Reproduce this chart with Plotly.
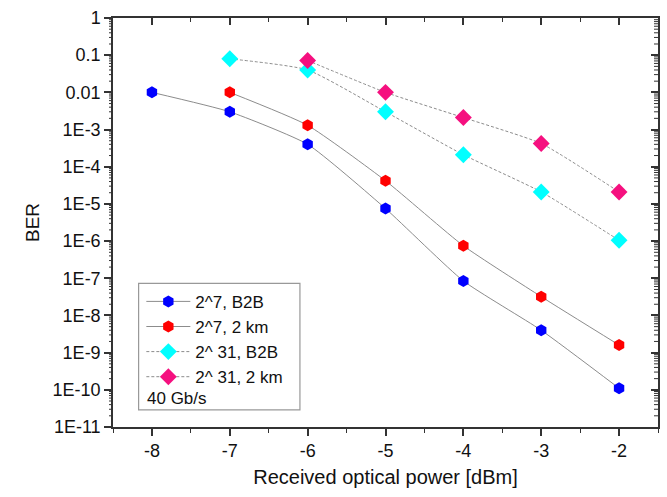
import math
import plotly.graph_objects as go

power = [-8, -7, -6, -5, -4, -3, -2]
ber_b2b_7 = [1e-2, 3e-3, 4e-4, 7.5e-6, 8.5e-8, 4e-9, 1.1e-10]
power_2km_7 = [-7, -6, -5, -4, -3, -2]
ber_2km_7 = [1e-2, 1.3e-3, 4.2e-5, 7.5e-7, 3.2e-8, 1.6e-9]
power_31_b2b = [-7, -6, -5, -4, -3, -2]
ber_b2b_31 = [8e-2, 4e-2, 3e-3, 2.1e-4, 2.1e-5, 1.05e-6]
power_31_2km = [-6, -5, -4, -3, -2]
ber_2km_31 = [7.2e-2, 1e-2, 2.1e-3, 4.2e-4, 2.1e-5]

names = ["2^7, B2B", "2^7, 2 km", "2^ 31, B2B", "2^ 31, 2 km"]
colors = ["#0000ff", "#ff0000", "#00ffff", "#f5107f"]
ytickvals = [1, 0.1, 0.01, 1e-3, 1e-4, 1e-5, 1e-6, 1e-7, 1e-8, 1e-9, 1e-10, 1e-11]
yticktext = ["1", "0.1", "0.01", "1E-3", "1E-4", "1E-5", "1E-6", "1E-7", "1E-8", "1E-9", "1E-10", "1E-11"]
yminorvals = [m * 10.0 ** e for e in range(-11, 0) for m in range(2, 10)]
xtickvals = [-8, -7, -6, -5, -4, -3, -2]
xticktext = ["-8", "-7", "-6", "-5", "-4", "-3", "-2"]

YLOG_MIN, YLOG_MAX = -11, 0
FONT = "Arial, Liberation Sans, sans-serif"
AX = "#333333"
TXT = "#111111"

fig = go.Figure()
series = [
    (power, ber_b2b_7, "hexagon", 12, "solid"),
    (power_2km_7, ber_2km_7, "hexagon", 12, "solid"),
    (power_31_b2b, ber_b2b_31, "diamond", 13, "3px,2px"),
    (power_31_2km, ber_2km_31, "diamond", 13, "3px,2px"),
]
for (xs, ys, sym, sz, dash), name, col in zip(series, names, colors):
    fig.add_trace(go.Scatter(
        x=xs, y=ys, name=name, mode="lines+markers",
        line=dict(color="#8c8c8c", width=1, dash=dash, shape="spline", smoothing=0.5),
        marker=dict(symbol=sym, size=sz, color=col, line=dict(width=0)),
    ))

fig.add_trace(go.Scatter(x=[None], y=[None], xaxis="x2", yaxis="y2", showlegend=False, hoverinfo="skip"))

# minor log ticks on left (outside) and right (inside); paper-referenced so they are not clipped
shapes = []
for v in yminorvals:
    py = (math.log10(v) - YLOG_MIN) / (YLOG_MAX - YLOG_MIN)
    shapes.append(dict(type="line", xref="paper", yref="paper", xsizemode="pixel", xanchor=0,
                       x0=-4, x1=0, y0=py, y1=py, line=dict(color=AX, width=1), layer="above"))
    shapes.append(dict(type="line", xref="paper", yref="paper", xsizemode="pixel", xanchor=1,
                       x0=-4, x1=0, y0=py, y1=py, line=dict(color=AX, width=1), layer="above"))
shapes.append(dict(type="rect", xref="paper", yref="paper", x0=0.047, x1=0.343, y0=0.042, y1=0.351,
                   line=dict(color="#999999", width=1.2), fillcolor="rgba(0,0,0,0)", layer="above"))

fig.update_layout(
    width=667, height=497,
    margin=dict(l=113, r=9, t=18, b=70),
    paper_bgcolor="white", plot_bgcolor="white",
    font=dict(family=FONT, size=18, color=TXT),
    showlegend=True,
    legend=dict(x=0.052, y=0.35, xanchor="left", yanchor="top",
                bgcolor="rgba(0,0,0,0)", borderwidth=0,
                font=dict(size=17, family=FONT, color=TXT),
                tracegroupgap=0, itemwidth=44),
    xaxis=dict(range=[-8.5, -1.5], tickvals=xtickvals, ticktext=xticktext, ticks="outside", ticklen=7, tickwidth=1.5,
               tickcolor=AX, showline=True, linecolor=AX, linewidth=1.5, showgrid=False, zeroline=False,
               minor=dict(ticks="outside", ticklen=4, tickwidth=1.2, dtick=0.5, tick0=-8, tickcolor=AX, showgrid=False),
               title=dict(text="Received optical power [dBm]", font=dict(size=20), standoff=10),
               tickfont=dict(size=18)),
    yaxis=dict(type="log", range=[YLOG_MIN, YLOG_MAX], tickvals=ytickvals, ticktext=yticktext, ticks="outside",
               ticklen=7, tickwidth=1.5, tickcolor=AX, showline=True, linecolor=AX, linewidth=1.5,
               showgrid=False, zeroline=False,
               title=dict(text="BER", font=dict(size=19), standoff=8),
               tickfont=dict(size=18)),
    xaxis2=dict(overlaying="x", side="top", range=[-8.5, -1.5], tickvals=xtickvals, ticks="inside",
                ticklen=7, tickwidth=1.5, tickcolor=AX, showticklabels=False, showline=True,
                linecolor=AX, linewidth=1.5, showgrid=False, zeroline=False,
                minor=dict(ticks="inside", ticklen=4, tickwidth=1.2, dtick=0.5, tick0=-8, tickcolor=AX, showgrid=False)),
    yaxis2=dict(overlaying="y", side="right", type="log", range=[YLOG_MIN, YLOG_MAX], tickvals=ytickvals,
                ticks="inside", ticklen=7, tickwidth=1.5, tickcolor=AX, showticklabels=False,
                showline=True, linecolor=AX, linewidth=1.5, showgrid=False, zeroline=False),
    shapes=shapes,
    annotations=[dict(text="40 Gb/s", xref="paper", yref="paper", x=0.058, y=0.07,
                      xanchor="left", yanchor="middle", showarrow=False,
                      font=dict(size=17, family=FONT, color=TXT))],
)

fig.write_html("out.html")
